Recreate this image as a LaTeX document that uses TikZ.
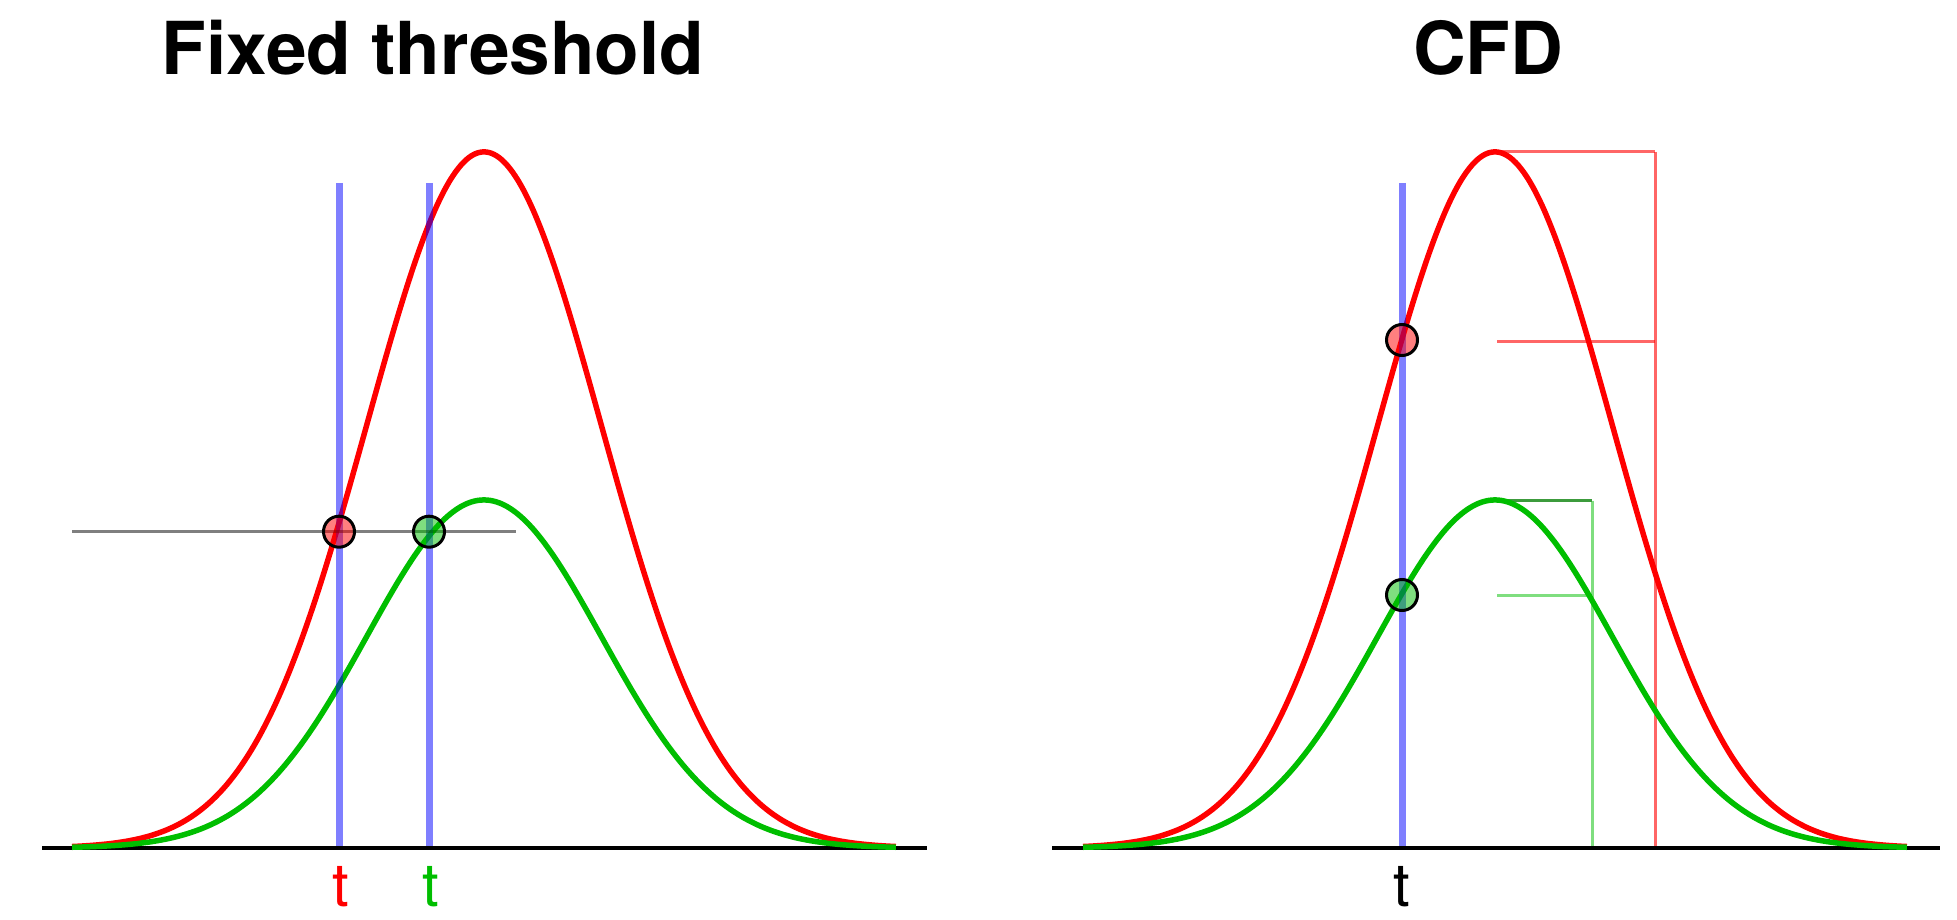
\documentclass[tikz,border=0pt]{standalone}
\usepackage{fontspec}
\setmainfont{TeX Gyre Heros}
\definecolor{cred}{RGB}{255,0,0}
\definecolor{cgreen}{RGB}{0,190,0}
\definecolor{cblue}{RGB}{0,0,255}
\definecolor{cdkgreen}{RGB}{60,155,60}
\tikzset{
  axisline/.style={draw=black, line width=3.5pt},
  redcurve/.style={draw=cred, line width=5.5pt},
  greencurve/.style={draw=cgreen, line width=5.5pt},
  bluebar/.style={draw=cblue, draw opacity=0.5, line width=7pt},
  thresh/.style={draw=black, draw opacity=0.5, line width=3pt},
  dot/.style={circle, draw=black, line width=3pt, minimum size=31pt, inner sep=0pt},
  reddot/.style={dot, fill=cred, fill opacity=0.5},
  greendot/.style={dot, fill=cgreen, fill opacity=0.5},
  redguide/.style={draw=cred, draw opacity=0.6, line width=3pt},
  greenguide/.style={draw=cgreen, draw opacity=0.5, line width=3pt},
  greentop/.style={draw=cdkgreen, line width=3pt},
  title/.style={font=\bfseries\fontsize{73}{80}\selectfont, anchor=base, inner sep=0pt},
  tlabel/.style={font=\fontsize{60}{68}\selectfont, anchor=base, inner sep=0pt},
}
\begin{document}
\begin{tikzpicture}[x=1pt,y=-1pt]
\useasboundingbox (0,0) rectangle (1957,920);

% titles
\node[title] (t1) at (433,75) {Fixed threshold};
\node[title] (t2) at (1488,75) {CFD};

% ---------- left panel ----------
\coordinate (la) at (42,848);
\coordinate (lb) at (927,848);
\draw[axisline] (la) -- (lb);
\draw[redcurve] plot[domain=-3.506:3.506, samples=160, smooth] ({484+117.5*\x},{848-696*exp(-\x*\x/2)});
\draw[greencurve] plot[domain=-3.506:3.506, samples=160, smooth] ({484+117.5*\x},{848-348*exp(-\x*\x/2)});
\coordinate (b1t) at (339,183);
\coordinate (b1b) at (339,846);
\coordinate (b2t) at (429,183);
\coordinate (b2b) at (429,846);
\draw[bluebar] (b1t) -- (b1b);
\draw[bluebar] (b2t) -- (b2b);
\coordinate (th1) at (72,531.7);
\coordinate (th2) at (516,531.7);
\draw[thresh] (th1) -- (th2);
\node[reddot] (rc1) at (339,531.7) {};
\node[greendot] (gc1) at (429,531.7) {};
\node[tlabel, text=cred] (lt1) at (341,906) {t};
\node[tlabel, text=cgreen] (lt2) at (431,906) {t};

% ---------- right panel ----------
\coordinate (rtop) at (1495,152);
\coordinate (rcor) at (1655,152);
\coordinate (rbase) at (1655,848);
\coordinate (rmidl) at (1497,341.7);
\coordinate (rmidr) at (1655,341.7);
\draw[redguide] (rtop) -- (rcor);
\draw[redguide] (rcor) -- (rbase);
\draw[redguide] (rmidl) -- (rmidr);
\coordinate (gtop) at (1497,500.7);
\coordinate (gcor) at (1592,500.7);
\coordinate (gbase) at (1592,848);
\coordinate (gmidl) at (1497,595);
\coordinate (gmidr) at (1592,595);
\draw[greenguide] (gcor) -- (gbase);
\draw[greenguide] (gmidl) -- (gmidr);
\draw[greentop] (gtop) -- (gcor);
\coordinate (ra) at (1052,848);
\coordinate (rb) at (1940,848);
\draw[axisline] (ra) -- (rb);
\draw[redcurve] plot[domain=-3.506:3.506, samples=160, smooth] ({1495+117.5*\x},{848-696*exp(-\x*\x/2)});
\draw[greencurve] plot[domain=-3.506:3.506, samples=160, smooth] ({1495+117.5*\x},{848-348*exp(-\x*\x/2)});
\coordinate (b3t) at (1402,183);
\coordinate (b3b) at (1402,846);
\draw[bluebar] (b3t) -- (b3b);
\node[reddot] (rc2) at (1402,340) {};
\node[greendot] (gc2) at (1402,595) {};
\node[tlabel, text=black] (lt3) at (1402,906) {t};
\end{tikzpicture}
\end{document}
